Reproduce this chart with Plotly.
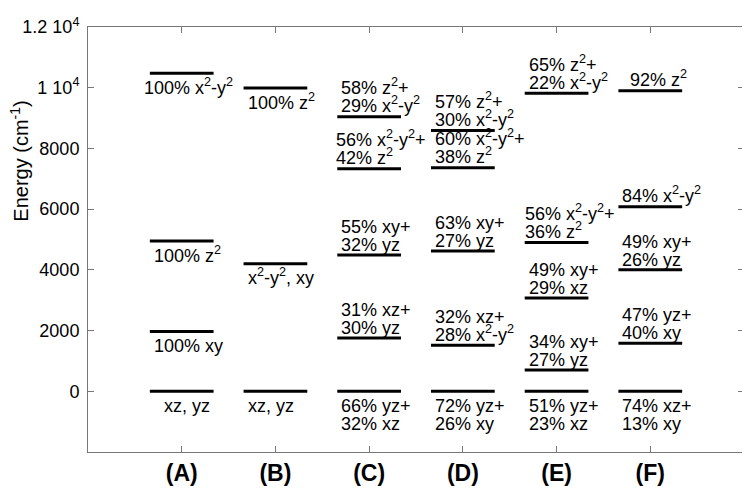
import plotly.graph_objects as go

# ---- data ----
complex_labels = ["(A)", "(B)", "(C)", "(D)", "(E)", "(F)"]
complex_pos = [1, 2, 3, 4, 5, 6]

# energy levels (cm^-1) per complex
levels_A = [10480, 4950, 1970, 0]
levels_B = [9990, 4200, 0]
levels_C = [9040, 7330, 4490, 1755, 0]
levels_D = [8590, 7364, 4625, 1515, 0]
levels_E = [9820, 4900, 3070, 700, 0]
levels_F = [9900, 6080, 4000, 1580, 0]

X2Y2 = "x<sup>2</sup>-y<sup>2</sup>"
Z2 = "z<sup>2</sup>"
labels_A = ["100% " + X2Y2, "100% " + Z2, "100% xy", "xz, yz"]
labels_B = ["100% " + Z2, X2Y2 + ", xy", "xz, yz"]
labels_C = ["58% " + Z2 + "+<br>29% " + X2Y2, "56% " + X2Y2 + "+<br>42% " + Z2,
            "55% xy+<br>32% yz", "31% xz+<br>30% yz", "66% yz+<br>32% xz"]
labels_D = ["57% " + Z2 + "+<br>30% " + X2Y2, "60% " + X2Y2 + "+<br>38% " + Z2,
            "63% xy+<br>27% yz", "32% xz+<br>28% " + X2Y2, "72% yz+<br>26% xy"]
labels_E = ["65% " + Z2 + "+<br>22% " + X2Y2, "56% " + X2Y2 + "+<br>36% " + Z2,
            "49% xy+<br>29% xz", "34% xy+<br>27% yz", "51% yz+<br>23% xz"]
labels_F = ["92% " + Z2, "84% " + X2Y2, "49% xy+<br>26% yz", "47% yz+<br>40% xy",
            "74% xz+<br>13% xy"]

# where each label sits relative to its level: "below" or "above"
side_A = ["below", "below", "below", "below"]
side_B = ["below", "below", "below"]
side_C = ["above", "above", "above", "above", "below"]
side_D = ["above", "above", "above", "above", "below"]
side_E = ["above", "above", "above", "above", "below"]
side_F = ["above", "above", "above", "above", "below"]

y_tickvals = [0, 2000, 4000, 6000, 8000, 10000, 12000]
y_ticktext = ["0", "2000", "4000", "6000", "8000", "1 10<sup>4</sup>", "1.2 10<sup>4</sup>"]

all_levels = [levels_A, levels_B, levels_C, levels_D, levels_E, levels_F]
all_labels = [labels_A, labels_B, labels_C, labels_D, labels_E, labels_F]
all_sides = [side_A, side_B, side_C, side_D, side_E, side_F]

# ---- styling (pixel nudges for individual labels, kept apart from the data) ----
HALF = 0.34
FONT = "Liberation Sans, Arial, Helvetica, sans-serif"
LABEL_SIZE = 18
LINE_GAP = 18
ABOVE_SHIFT = 10
BELOW_SHIFT = -15
XNUDGE = {(0, 0): -10, (2, 1): -5, (4, 1): -4, (5, 0): 8, (0, 3): 10, (1, 3): 14}

xs, ys = [], []
annotations = []
for ci, (pos, levs, labs, sides) in enumerate(zip(complex_pos, all_levels, all_labels, all_sides)):
    for li, (e, lab, sd) in enumerate(zip(levs, labs, sides)):
        xs += [pos - HALF, pos + HALF, None]
        ys += [e, e, None]
        parts = lab.split("<br>")
        n = len(parts)
        for k, part in enumerate(parts):
            if sd == "above":
                ysh = ABOVE_SHIFT + (n - 1 - k) * LINE_GAP
            else:
                ysh = BELOW_SHIFT - k * LINE_GAP
            if "<sup>" in part:
                ysh += 2
            annotations.append(dict(
                x=pos - HALF, y=e, xref="x", yref="y", text=part, showarrow=False,
                xanchor="left", yanchor="middle",
                xshift=2 + XNUDGE.get((ci, li), 0), yshift=ysh,
                font=dict(family=FONT, size=LABEL_SIZE, color="black"),
            ))

# y-axis title placed as a rotated annotation
annotations.append(dict(
    x=-0.104, y=0.685, xref="paper", yref="paper", text="Energy (cm<sup>-1</sup>)",
    textangle=-90, showarrow=False, xanchor="center", yanchor="middle",
    font=dict(family=FONT, size=20, color="black"),
))

fig = go.Figure()
fig.add_trace(go.Scatter(x=xs, y=ys, mode="lines",
                         line=dict(color="black", width=3),
                         hoverinfo="skip", showlegend=False))

# the page body adds an 8px offset, so the figure is 742x494 with shifted margins
fig.update_layout(
    width=742, height=494,
    margin=dict(l=80, r=6, t=19, b=50),
    paper_bgcolor="white", plot_bgcolor="white",
    font=dict(family=FONT, color="black"),
    annotations=annotations,
    showlegend=False,
)
fig.update_xaxes(
    range=[0, 7], tickvals=complex_pos,
    ticktext=["<b>" + t + "</b>" for t in complex_labels],
    tickfont=dict(family=FONT, size=23, color="black"),
    ticks="inside", ticklen=6, tickcolor="#777", tickwidth=1,
    showline=True, linecolor="#777", linewidth=1, mirror="ticks",
    showgrid=False, zeroline=False, automargin=False,
)
fig.update_yaxes(
    range=[-2000, 12000], tickvals=y_tickvals, ticktext=y_ticktext,
    tickfont=dict(family=FONT, size=18, color="black"),
    ticks="inside", ticklen=6, tickcolor="#777", tickwidth=1,
    showline=True, linecolor="#777", linewidth=1, mirror="ticks",
    showgrid=False, zeroline=False, automargin=False, ticklabelstandoff=4,
)

fig.write_html("out.html")
